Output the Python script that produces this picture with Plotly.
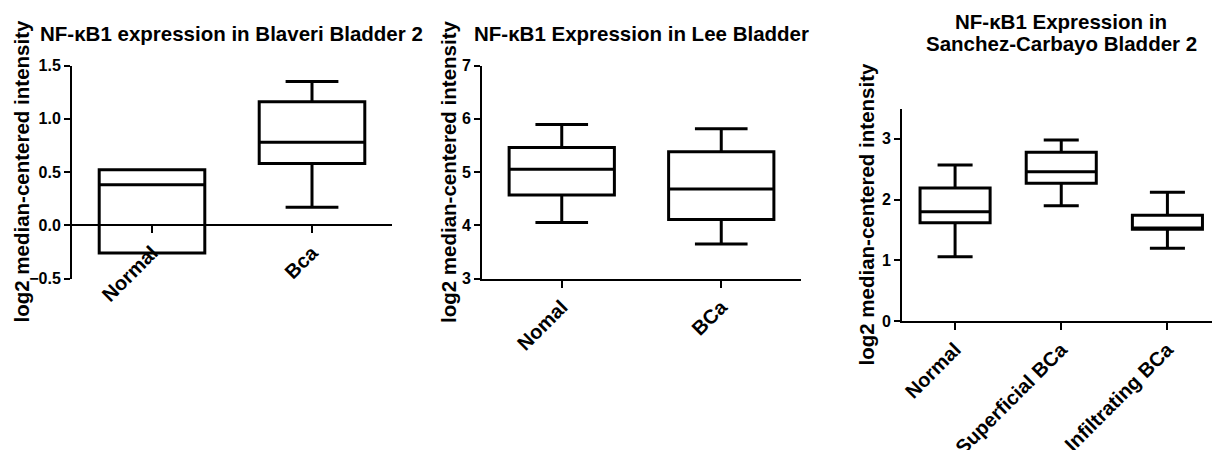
import plotly.graph_objects as go

# ---------------- data ----------------
blaveri_cats = ["Normal", "Bca"]
blaveri_low = [-0.26, 0.17]
blaveri_q1 = [-0.26, 0.58]
blaveri_med = [0.38, 0.78]
blaveri_q3 = [0.52, 1.16]
blaveri_high = [0.52, 1.35]

lee_cats = ["Nomal", "BCa"]
lee_low = [4.05, 3.65]
lee_q1 = [4.57, 4.11]
lee_med = [5.05, 4.68]
lee_q3 = [5.46, 5.38]
lee_high = [5.89, 5.81]

sc_cats = ["Normal", "Superficial BCa", "Infiltrating BCa"]
sc_low = [1.06, 1.90, 1.20]
sc_q1 = [1.62, 2.27, 1.51]
sc_med = [1.80, 2.46, 1.53]
sc_q3 = [2.19, 2.78, 1.74]
sc_high = [2.57, 2.98, 2.12]

titles = ["NF-κB1 expression in Blaveri Bladder 2",
          "NF-κB1 Expression in Lee Bladder",
          "NF-κB1 Expression in", "Sanchez-Carbayo Bladder 2"]
ytitle = "log2 median-centered intensity"

# ---------------- layout geometry ----------------
W, H = 1212, 450
FONT = "Liberation Sans, Arial, sans-serif"

def px_x(v):
    return v / W

def px_y(v):
    return 1 - v / H

x1_dom = [px_x(72), px_x(392)]
x2_dom = [px_x(482), px_x(801)]
x3_dom = [px_x(902), 1.0]
y12_dom = [px_y(278.5), px_y(65.5)]
y3_dom = [px_y(321), px_y(108.5)]

y1_range = [-0.5, 1.5]
y2_range = [3, 7]
y3_range = [0, 3.5]

fig = go.Figure()

def add_box(cats, low, q1, med, q3, high, xa, ya):
    fig.add_trace(go.Box(
        x=cats, lowerfence=low, q1=q1, median=med, q3=q3, upperfence=high,
        xaxis=xa, yaxis=ya, width=0.66, whiskerwidth=0.5,
        line=dict(color="black", width=3), fillcolor="rgba(255,255,255,0)",
        boxpoints=False, showlegend=False, hoverinfo="skip"))

add_box(blaveri_cats, blaveri_low, blaveri_q1, blaveri_med, blaveri_q3, blaveri_high, "x", "y")
add_box(lee_cats, lee_low, lee_q1, lee_med, lee_q3, lee_high, "x2", "y2")
add_box(sc_cats, sc_low, sc_q1, sc_med, sc_q3, sc_high, "x3", "y3")

tickfont = dict(family=FONT, size=16, color="black", weight="bold")
catfont = dict(family=FONT, size=20, color="black", weight="bold")

xcommon = dict(type="category", showline=True, linecolor="black", linewidth=2,
               ticks="outside", ticklen=7, tickwidth=2, tickcolor="black",
               tickangle=-45, tickfont=catfont, showgrid=False, zeroline=False,
               automargin=False, fixedrange=True)
ycommon = dict(showline=True, linecolor="black", linewidth=2,
               ticks="outside", ticklen=6, tickwidth=2, tickcolor="black",
               tickfont=tickfont, showgrid=False, zeroline=False,
               automargin=False, fixedrange=True)

# x axis of panel 1 crosses the y axis at 0
zero_pos = y12_dom[0] + (0 - y1_range[0]) / (y1_range[1] - y1_range[0]) * (y12_dom[1] - y12_dom[0])

fig.update_layout(
    width=W, height=H, margin=dict(l=0, r=0, t=0, b=0),
    paper_bgcolor="white", plot_bgcolor="white",
    font=dict(family=FONT, color="black"),
    xaxis=dict(xcommon, domain=x1_dom, range=[-0.5, 1.5], anchor="free", position=zero_pos),
    yaxis=dict(ycommon, domain=y12_dom, range=y1_range, anchor="x",
               tickvals=[-0.5, 0, 0.5, 1.0, 1.5], tickformat=".1f"),
    xaxis2=dict(xcommon, domain=x2_dom, range=[-0.5, 1.5], anchor="y2"),
    yaxis2=dict(ycommon, domain=y12_dom, range=y2_range, anchor="x2",
                tickvals=[3, 4, 5, 6, 7]),
    xaxis3=dict(xcommon, domain=x3_dom, range=[-0.5, 2.42], anchor="y3"),
    yaxis3=dict(ycommon, domain=y3_dom, range=y3_range, anchor="x3",
                tickvals=[0, 1, 2, 3]),
)

tfont = dict(family=FONT, size=20.5, color="black", weight="bold")

def ann(text, x, y, angle=0):
    fig.add_annotation(text=text, x=px_x(x), y=px_y(y), xref="paper", yref="paper",
                       showarrow=False, font=tfont, textangle=angle,
                       xanchor="center", yanchor="middle")

ann(titles[0], 231, 33)
ann(titles[1], 641, 33)
ann(titles[2], 1061, 21.5)
ann(titles[3], 1061, 43)
ann(ytitle, 20.5, 172, -90)
ann(ytitle, 448, 172, -90)
ann(ytitle, 866, 214.5, -90)

fig.write_html("out.html", config={"displayModeBar": False},
               post_script="document.body.style.margin='0';document.body.style.overflow='hidden';")
